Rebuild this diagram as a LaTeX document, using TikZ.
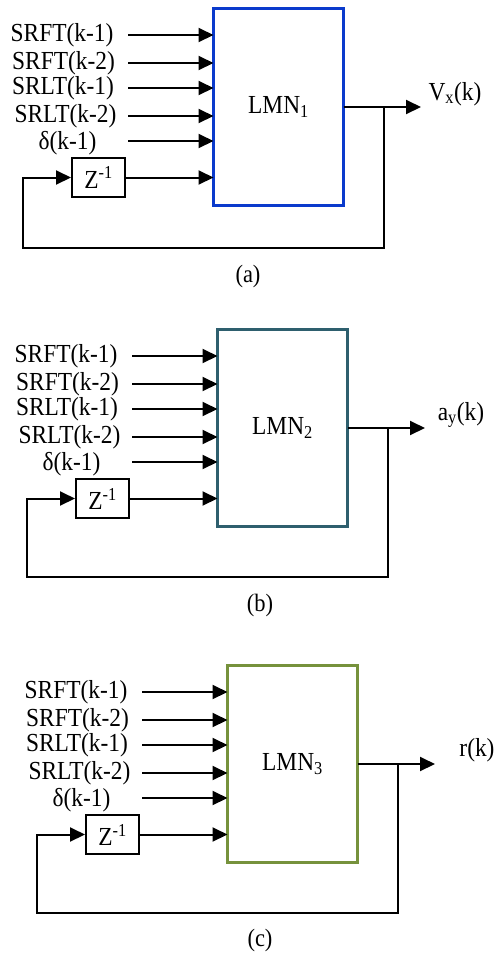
\documentclass[tikz,border=0pt]{standalone}
\usepackage{fontspec}
\setmainfont{Liberation Serif}[FakeStretch=0.9]
\usetikzlibrary{arrows.meta}
\definecolor{cblue}{RGB}{10,58,204}
\definecolor{cteal}{RGB}{46,95,110}
\definecolor{cgreen}{RGB}{118,146,60}
\tikzset{
  lbl/.style={font=\fontsize{26}{29}\selectfont, inner sep=0pt},
  inarrow/.style={line width=2pt, -{Triangle[length=15pt,width=14pt]}},
  lmn/.style={draw=#1, line width=3pt, minimum width=130pt, minimum height=197pt,
    inner sep=0pt, outer sep=0pt, font=\fontsize{26}{29}\selectfont},
  zbox/.style={draw, line width=2pt, minimum width=53pt, minimum height=39pt,
    inner sep=0pt, font=\fontsize{26}{29}\selectfont},
}
\begin{document}
\begin{tikzpicture}[x=1pt,y=-1pt]
\useasboundingbox (0,0) rectangle (495,954);
\foreach \L/\T/\p/\c/\n/\o/\ox/\oy/\cap/\cx/\cy/\bt in {
  212/7/a/cblue/1/{V\textsubscript{x}(k)}/243/87/(a)/36/269/241,
  216/328/b/cteal/2/{a\textsubscript{y}(k)}/245/87/(b)/44/277/249,
  226/664/c/cgreen/3/{r(k)}/251/86/(c)/34/276/249}{
\begin{scope}[shift={(\L,\T)}]
  \node[lmn=\c, anchor=north west] (\p box) at (1.5,1.5) {LMN\textsubscript{\n}};
  % inputs
  \node[lbl] (\p l1) at (-150,28) {SRFT(k-1)};
  \node[lbl] (\p l2) at (-148.5,56) {SRFT(k-2)};
  \node[lbl] (\p l3) at (-149,81) {SRLT(k-1)};
  \node[lbl] (\p l4) at (-146.5,109) {SRLT(k-2)};
  \node[lbl] (\p l5) at (-144.5,136) {δ(k-1)};
  \coordinate (\p i1) at (-84,28);
  \coordinate (\p i2) at (-84,56);
  \coordinate (\p i3) at (-84,81);
  \coordinate (\p i4) at (-84,109);
  \coordinate (\p i5) at (-84,134);
  \foreach \k in {1,...,5}{
    \draw[inarrow] (\p i\k) -- (\p i\k -| \p box.west);
  }
  % delay
  \node[zbox] (\p z) at (-113.5,170.5) {Z\textsuperscript{-1}};
  \draw[inarrow] (\p z.east) -- (\p z.east -| \p box.west);
  % output
  \coordinate (\p out) at (209,100);
  \coordinate (\p br) at (172,100);
  \coordinate (\p fb) at (-189,\bt);
  \draw[inarrow] (\p out -| \p box.east) -- (\p out);
  \draw[inarrow] (\p br) |- (\p fb) |- (\p z.west);
  \node[lbl] (\p ol) at (\ox,\oy) {\o};
  \node[lbl, font=\fontsize{25}{28}\selectfont] (\p cap) at (\cx,\cy) {\cap};
\end{scope}
}
\end{tikzpicture}
\end{document}
